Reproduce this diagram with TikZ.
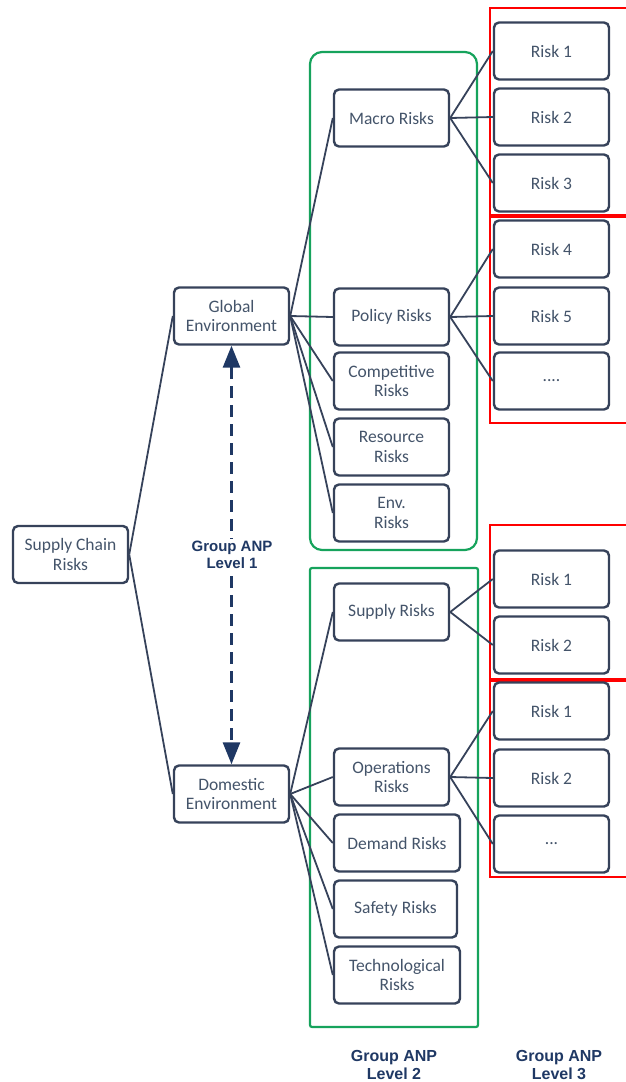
\documentclass[tikz,border=0pt]{standalone}
\usepackage{fontspec}
\setmainfont{Carlito}
\newfontfamily\lblfont{Liberation Sans}
\usetikzlibrary{arrows.meta}
\definecolor{ink}{HTML}{44546A}
\definecolor{edgec}{HTML}{36425A}
\definecolor{navy}{HTML}{1F3864}
\definecolor{grn}{HTML}{16A35C}
\definecolor{rd}{HTML}{FF0000}
\begin{document}
\begin{tikzpicture}[x=1pt,y=-1pt,
  box/.style={draw=edgec, line width=2.4pt, rounded corners=5pt, fill=white,
    minimum width=115pt, minimum height=57pt, align=center, text=ink,
    inner sep=2pt, font=\fontsize{17.5}{19.5}\selectfont},
  wbox/.style={box, minimum width=126pt},
  conn/.style={draw=edgec, line width=1.8pt},
  grp/.style={draw=grn, line width=2.2pt},
  rgrp/.style={draw=rd, line width=2.2pt},
  lbl/.style={text=navy, align=center, font=\lblfont\bfseries\fontsize{16}{18}\selectfont}]
\useasboundingbox (0,0) rectangle (626,1082);
% group frames
\draw[grp, rounded corners=12pt] (310,52) rectangle (477,550);
\draw[grp, rounded corners=2pt] (310,568) rectangle (478,1027);
\draw[rgrp] (490,8) rectangle (632,215);
\draw[rgrp] (490,217) rectangle (632,423);
\draw[rgrp] (490,525) rectangle (632,679);
\draw[rgrp] (490,681) rectangle (632,877);
% nodes
\node[box] (scr) at (70.5,554.5) {Supply Chain\\Risks};
\node[box] (ge) at (231.5,316) {Global\\Environment};
\node[box] (de) at (231.5,794) {Domestic\\Environment};
\node[box] (macro) at (391.5,118) {Macro Risks};
\node[box] (policy) at (391.5,317) {Policy Risks};
\node[box] (comp) at (391.5,381) {Competitive\\Risks};
\node[box] (res) at (391.5,447) {Resource\\Risks};
\node[box] (env) at (391.5,513) {Env.\\Risks};
\node[box] (supply) at (391.5,612) {Supply Risks};
\node[box] (oper) at (391.5,777) {Operations\\Risks};
\node[wbox] (demand) at (397,843) {Demand Risks};
\node[box, minimum width=123pt] (safety) at (395.5,909) {Safety Risks};
\node[wbox] (tech) at (397,975) {Technological\\Risks};
\node[box] (r1) at (551.5,51) {Risk 1};
\node[box] (r2) at (551.5,117) {Risk 2};
\node[box] (r3) at (551.5,183) {Risk 3};
\node[box] (r4) at (551.5,249) {Risk 4};
\node[box] (r5) at (551.5,316) {Risk 5};
\node[box] (r6) at (551.5,381) {....};
\node[box] (s1) at (551.5,579) {Risk 1};
\node[box] (s2) at (551.5,645) {Risk 2};
\node[box] (o1) at (551.5,711) {Risk 1};
\node[box] (o2) at (551.5,778) {Risk 2};
\node[box] (o3) at (551.5,844) {...};
% connectors
\draw[conn] (scr.east) -- (ge.west);
\draw[conn] (scr.east) -- (de.west);
\foreach \t in {macro,policy,comp,res,env} \draw[conn] (ge.east) -- (\t.west);
\foreach \t in {supply,oper,demand,safety,tech} \draw[conn] (de.east) -- (\t.west);
\foreach \t in {r1,r2,r3} \draw[conn] (macro.east) -- (\t.west);
\foreach \t in {r4,r5,r6} \draw[conn] (policy.east) -- (\t.west);
\foreach \t in {s1,s2} \draw[conn] (supply.east) -- (\t.west);
\foreach \t in {o1,o2,o3} \draw[conn] (oper.east) -- (\t.west);
% level 1 arrow
\draw[navy, line width=2.8pt, dash pattern=on 12pt off 7pt,
  {Triangle[length=22pt,width=17pt]}-{Triangle[length=22pt,width=17pt]}] (ge.south) -- (de.north);
\node[lbl, fill=white, inner sep=2pt, font=\lblfont\bfseries\fontsize{15}{17}\selectfont] (l1) at (232,555) {Group ANP\\Level 1};
\node[lbl] (l2) at (394,1065) {Group ANP\\Level 2};
\node[lbl] (l3) at (559,1065) {Group ANP\\Level 3};
\end{tikzpicture}
\end{document}
